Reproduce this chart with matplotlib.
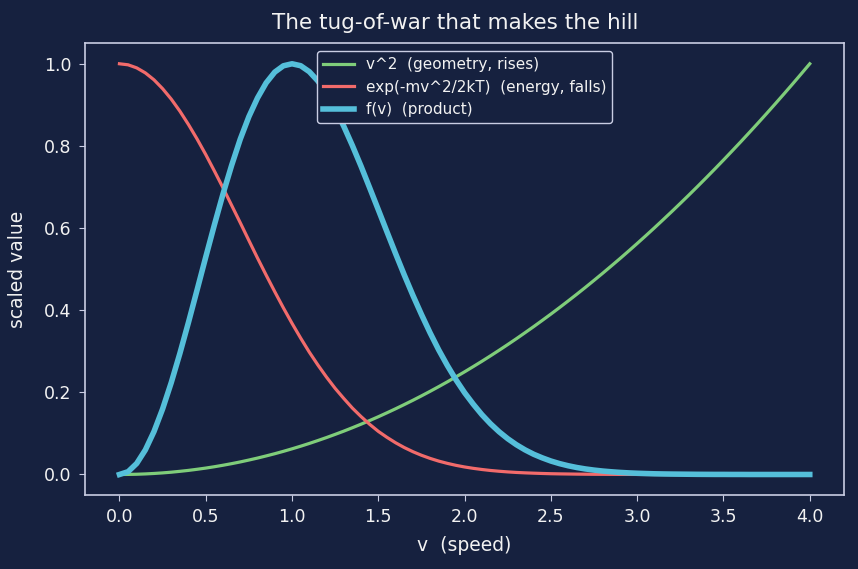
import numpy as np
import matplotlib
matplotlib.use("Agg")
import matplotlib.pyplot as plt

# speed grid, step 0.05 from 0 to 4
speed = np.linspace(0, 4, 81)

# values (scaled to a max of 1)
geometry = [0.0, 0.0002, 0.0006, 0.0014, 0.0025, 0.0039, 0.0056, 0.0077, 0.01, 0.0127,
            0.0156, 0.0189, 0.0225, 0.0264, 0.0306, 0.0352, 0.04, 0.0452, 0.0506, 0.0564,
            0.0625, 0.0689, 0.0756, 0.0827, 0.09, 0.0977, 0.1056, 0.1139, 0.1225, 0.1314,
            0.1406, 0.1502, 0.16, 0.1702, 0.1806, 0.1914, 0.2025, 0.2139, 0.2256, 0.2377,
            0.25, 0.2627, 0.2756, 0.2889, 0.3025, 0.3164, 0.3306, 0.3452, 0.36, 0.3752,
            0.3906, 0.4064, 0.4225, 0.4389, 0.4556, 0.4727, 0.49, 0.5077, 0.5256, 0.5439,
            0.5625, 0.5814, 0.6006, 0.6202, 0.64, 0.6602, 0.6806, 0.7014, 0.7225, 0.7439,
            0.7656, 0.7877, 0.81, 0.8327, 0.8556, 0.8789, 0.9025, 0.9264, 0.9506, 0.9752, 1.0]
energy = [1.0, 0.9975, 0.990, 0.9778, 0.961, 0.9394, 0.914, 0.8847, 0.852, 0.8167,
          0.779, 0.7390, 0.698, 0.6554, 0.613, 0.5698, 0.527, 0.4855, 0.445, 0.4056,
          0.368, 0.3321, 0.298, 0.2665, 0.237, 0.2096, 0.185, 0.1616, 0.141, 0.1221,
          0.105, 0.0905, 0.0773, 0.0657, 0.0556, 0.0468, 0.0392, 0.0326, 0.0271, 0.0223,
          0.0183, 0.0150, 0.0122, 0.0098, 0.0079, 0.0063, 0.0050, 0.0040, 0.0032, 0.0025,
          0.0019, 0.0015, 0.0012, 0.0009, 0.0007, 0.0005, 0.0004, 0.0003, 0.0002, 0.0002,
          0.0001, 0.0001, 0.0, 0.0, 0.0, 0.0, 0.0, 0.0, 0.0, 0.0,
          0.0, 0.0, 0.0, 0.0, 0.0, 0.0, 0.0, 0.0, 0.0, 0.0, 0.0]
product = [0.0, 0.0068, 0.0269, 0.0598, 0.1045, 0.1596, 0.2236, 0.2946, 0.3705, 0.4496,
           0.5294, 0.6077, 0.6830, 0.7527, 0.8165, 0.8713, 0.9168, 0.9535, 0.9798, 0.9951,
           1.0, 0.9953, 0.9808, 0.9581, 0.9274, 0.8903, 0.8477, 0.8006, 0.7505, 0.6978,
           0.6446, 0.5910, 0.5379, 0.4862, 0.4366, 0.3896, 0.3449, 0.3033, 0.2654, 0.2305,
           0.1991, 0.1713, 0.1458, 0.1235, 0.1040, 0.0871, 0.0725, 0.0600, 0.0493, 0.0405,
           0.0328, 0.0265, 0.0213, 0.0170, 0.0135, 0.0107, 0.0084, 0.0066, 0.0051, 0.0039,
           0.0030, 0.0023, 0.0017, 0.0013, 0.0010, 0.0008, 0.0006, 0.0004, 0.0003, 0.0002,
           0.0002, 0.0001, 0.0001, 0.0, 0.0, 0.0, 0.0, 0.0, 0.0, 0.0, 0.0]

bg = "#16213f"
fg = "#f2f2f2"
edge = "#c9cde3"

fig, ax = plt.subplots(figsize=(8.58, 5.69), dpi=100)
fig.patch.set_facecolor(bg)
ax.set_facecolor(bg)

ax.plot(speed, geometry, color="#7fcd7a", lw=2.3, label="v^2  (geometry, rises)")
ax.plot(speed, energy, color="#f26b6b", lw=2.3, label="exp(-mv^2/2kT)  (energy, falls)")
ax.plot(speed, product, color="#55bfda", lw=4.0, label="f(v)  (product)")

ax.set_title("The tug-of-war that makes the hill", color=fg, fontsize=15.5, x=0.488, pad=10)
ax.set_xlabel("v  (speed)", color=fg, fontsize=13.5, labelpad=7)
ax.set_ylabel("scaled value", color=fg, fontsize=13.5, labelpad=12)
ax.set_xticks(np.arange(0, 4.01, 0.5))
ax.set_yticks(np.arange(0, 1.01, 0.2))
ax.tick_params(colors=edge, labelcolor=fg, labelsize=12.5, length=4.5, pad=5)
for s in ax.spines.values():
    s.set_color(edge)
    s.set_linewidth(1.2)

leg = ax.legend(loc="upper center", fontsize=11, facecolor=bg, edgecolor=edge,
                framealpha=1, handlelength=2.0)
for t in leg.get_texts():
    t.set_color(fg)

plt.subplots_adjust(left=0.099, right=0.984, top=0.924, bottom=0.13)
fig.savefig("out.png", dpi=100, facecolor=bg)
